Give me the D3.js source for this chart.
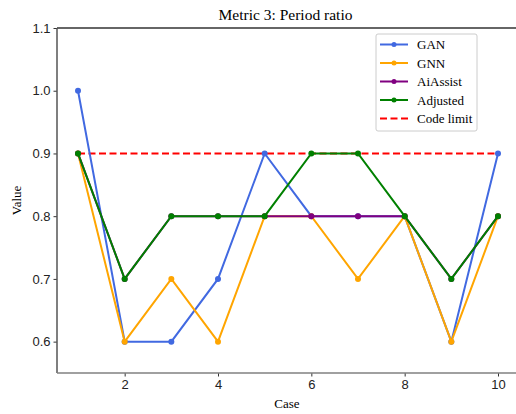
<!DOCTYPE html>
<html>
<head>
<meta charset="utf-8">
<script src="https://cdn.jsdelivr.net/npm/d3@7"></script>
<style>
  body { margin: 0; background: #fff; }
  svg { display: block; font-family: "Liberation Serif", "DejaVu Serif", serif; }
</style>
</head>
<body>
<div id="graph"></div>
<script>
// data
const cases = [1, 2, 3, 4, 5, 6, 7, 8, 9, 10];
const ganValues = [1.0, 0.6, 0.6, 0.7, 0.9, 0.8, 0.8, 0.8, 0.6, 0.9];
const gnnValues = [0.9, 0.6, 0.7, 0.6, 0.8, 0.8, 0.7, 0.8, 0.6, 0.8];
const aiAssistValues = [0.9, 0.7, 0.8, 0.8, 0.8, 0.8, 0.8, 0.8, 0.7, 0.8];
const adjustedValues = [0.9, 0.7, 0.8, 0.8, 0.8, 0.9, 0.9, 0.8, 0.7, 0.8];
const codeLimit = 0.9;
const xTicks = [2, 4, 6, 8, 10];
const yTicks = [0.6, 0.7, 0.8, 0.9, 1.0, 1.1];

const series = [
  { name: 'GAN', values: ganValues, color: '#4169e1' },
  { name: 'GNN', values: gnnValues, color: '#ffa500' },
  { name: 'AiAssist', values: aiAssistValues, color: '#800080' },
  { name: 'Adjusted', values: adjustedValues, color: '#008000' }
];

const w = 516, h = 414;
const margin = { top: 28, right: -3, bottom: 41, left: 57 };

const svg = d3.select('#graph').append('svg')
  .attr('width', w).attr('height', h);

const xScale = d3.scaleLinear().domain([0.55, 10.45]).range([margin.left, w - margin.right]);
const yScale = d3.scaleLinear().domain([0.55, 1.1]).range([h - margin.bottom, margin.top]);

// axes
const xAxis = d3.axisBottom(xScale).tickValues(xTicks).tickFormat(d3.format('d')).tickSize(3.5).tickPadding(3);
const yAxis = d3.axisLeft(yScale).tickValues(yTicks).tickFormat(d3.format('.1f')).tickSize(3.5).tickPadding(3);

const gx = svg.append('g')
  .attr('transform', `translate(0,${h - margin.bottom})`)
  .call(xAxis);
gx.select('.domain').remove();
gx.selectAll('line').attr('stroke', '#333');
gx.selectAll('text').style('font-size', '13px').attr('fill', '#222');

const gy = svg.append('g')
  .attr('transform', `translate(${margin.left},0)`)
  .call(yAxis);
gy.select('.domain').remove();
gy.selectAll('line').attr('stroke', '#333');
gy.selectAll('text').style('font-size', '13px').attr('fill', '#222');

// spines
svg.append('line')
  .attr('x1', margin.left).attr('x2', w)
  .attr('y1', margin.top).attr('y2', margin.top)
  .attr('stroke', '#333').attr('stroke-width', 1.5);
svg.append('line')
  .attr('x1', margin.left).attr('x2', margin.left)
  .attr('y1', margin.top).attr('y2', h - margin.bottom)
  .attr('stroke', '#555').attr('stroke-width', 1.5);
svg.append('line')
  .attr('x1', margin.left).attr('x2', w)
  .attr('y1', h - margin.bottom).attr('y2', h - margin.bottom)
  .attr('stroke', '#808080').attr('stroke-width', 1.5);

// code limit
svg.append('line')
  .attr('x1', xScale(cases[0])).attr('x2', xScale(cases[cases.length - 1]))
  .attr('y1', yScale(codeLimit)).attr('y2', yScale(codeLimit))
  .attr('stroke', '#ff0000').attr('stroke-width', 2)
  .attr('stroke-dasharray', '7,3.5');

const line = d3.line()
  .x((d, i) => xScale(cases[i]))
  .y(d => yScale(d));

series.forEach(s => {
  svg.append('path')
    .datum(s.values)
    .attr('fill', 'none')
    .attr('stroke', s.color)
    .attr('stroke-width', 2)
    .attr('d', line);
  svg.selectAll(null)
    .data(s.values)
    .enter()
    .append('circle')
    .attr('cx', (d, i) => xScale(cases[i]))
    .attr('cy', d => yScale(d))
    .attr('r', 3)
    .attr('fill', s.color);
});

// title and labels
svg.append('text')
  .attr('x', (margin.left + 514) / 2)
  .attr('y', 20)
  .attr('text-anchor', 'middle')
  .style('font-size', '15.5px')
  .text('Metric 3: Period ratio');

svg.append('text')
  .attr('x', 287)
  .attr('y', 408)
  .attr('text-anchor', 'middle')
  .style('font-size', '13px')
  .text('Case');

svg.append('text')
  .attr('transform', `translate(21,${(margin.top + h - margin.bottom) / 2}) rotate(-90)`)
  .attr('text-anchor', 'middle')
  .style('font-size', '13px')
  .text('Value');

// legend
const legend = svg.append('g').attr('id', 'legend');
legend.append('rect')
  .attr('x', 376).attr('y', 34)
  .attr('width', 101).attr('height', 97)
  .attr('rx', 2)
  .attr('fill', '#fff').attr('fill-opacity', 0.8)
  .attr('stroke', '#ccc');

const legendItems = series.map(s => ({ name: s.name, color: s.color, dash: null }))
  .concat([{ name: 'Code limit', color: '#ff0000', dash: '7,3.5' }]);

const li = legend.selectAll('.legend-label')
  .data(legendItems)
  .enter()
  .append('g')
  .attr('class', 'legend-label')
  .attr('transform', (d, i) => `translate(0,${44.5 + i * 18.5})`);

li.append('line')
  .attr('x1', 380).attr('x2', 408)
  .attr('stroke', d => d.color)
  .attr('stroke-width', 2)
  .attr('stroke-dasharray', d => d.dash);
li.filter(d => !d.dash).append('circle')
  .attr('cx', 394).attr('r', 2.5)
  .attr('fill', d => d.color);
li.append('text')
  .attr('x', 417)
  .attr('dy', '0.35em')
  .style('font-size', '13px')
  .text(d => d.name);
</script>
</body>
</html>
